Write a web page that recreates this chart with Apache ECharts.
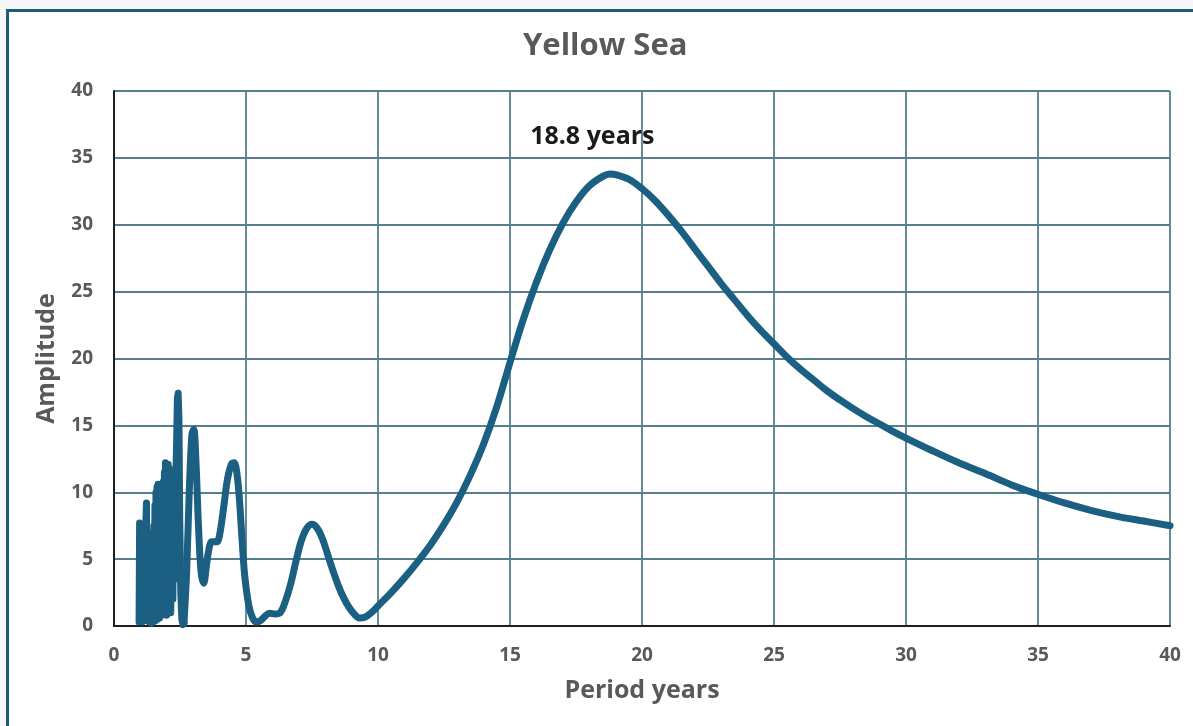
<!DOCTYPE html>
<html>
<head>
<meta charset="utf-8">
<script src="https://cdn.jsdelivr.net/npm/echarts@6/dist/echarts.min.js"></script>
<style>
  html, body { margin: 0; padding: 0; background: #f6f7f8; width: 1193px; height: 726px; overflow: hidden; }
  #frame { position: absolute; left: 6px; top: 9px; width: 1300px; height: 900px; border: 3px solid #1e5b78; background: #ffffff; }
  #chart { position: absolute; left: 0; top: 0; width: 1193px; height: 726px; }
</style>
</head>
<body>
<div id="frame"></div>
<div id="chart"></div>
<script>
// Short-period cluster (dense periodogram points)
const clusterPeriod = [
  0.95,0.97,0.99,1.01,1.03,1.05,1.07,1.09,1.11,1.13,
  1.15,1.17,1.19,1.21,1.23,1.25,1.27,1.29,1.31,1.33,
  1.35,1.37,1.39,1.41,1.43,1.45,1.47,1.49,1.51,1.53,
  1.55,1.57,1.59,1.61,1.63,1.65,1.67,1.69,1.71,1.73,
  1.75,1.77,1.79,1.81,1.83,1.85,1.87,1.89,1.91,1.93,
  1.95,1.97,1.99,2.01,2.03,2.05,2.07,2.09,2.11,2.13,
  2.15,2.17,2.19,2.21,2.23,2.25,2.27,2.29,2.31,2.34,
  2.37,2.40,2.43,2.46,2.49,2.53,2.57,2.61,2.65];
const clusterAmp = [
  0.3,7.7,0.5,7.0,1.5,5.5,0.3,6.0,2.0,5.2,
  0.4,5.5,0.8,8.0,9.2,0.6,7.0,2.5,5.5,0.3,
  5.2,1.5,4.8,0.2,5.0,1.8,5.4,0.3,7.5,2.5,
  9.0,0.4,10.0,3.0,10.4,0.5,10.6,4.5,10.4,0.6,
  10.2,5.0,10.3,0.8,9.8,6.0,10.8,1.0,11.5,6.5,
  12.2,12.3,0.8,12.0,7.0,12.1,1.5,11.8,7.5,11.0,
  1.0,10.2,6.5,9.8,2.0,10.5,7.0,10.0,3.5,11.0,
  13.5,17.0,17.4,15.5,8.0,2.5,0.5,0.1,0.2];

// Smooth part of the spectrum
const mainPeriod = [2.65,2.75,2.85,2.95,3.02,3.1,3.2,3.3,3.4,3.5,3.6,3.7,3.8,3.9,4.0,4.15,4.3,4.45,4.55,4.65,4.75,4.85,4.95,5.1,5.25,5.4,5.55,5.7,5.9,6.1,6.3,6.5,6.7,6.9,7.1,7.3,7.5,7.7,7.9,8.1,8.3,8.5,8.7,8.9,9.1,9.3,9.5,9.75,10,10.5,11,11.5,12,12.5,13,13.5,14,14.5,15,15.5,16,16.5,17,17.5,18,18.5,18.8,19,19.5,20,20.5,21,21.5,22,22.5,23,23.5,24,24.5,25,25.5,26,26.5,27,27.5,28,28.5,29,29.5,30,31,32,33,34,35,36,37,38,39,40];
const mainAmp    = [0.2,4.0,10.0,14.3,14.7,12.5,7.5,4.0,3.2,4.5,5.8,6.3,6.3,6.3,6.8,8.8,11.0,12.1,12.2,11.5,9.5,6.5,3.8,1.6,0.6,0.3,0.4,0.7,0.95,0.9,1.0,1.9,3.2,4.9,6.4,7.3,7.6,7.3,6.5,5.3,4.1,3.0,2.1,1.4,0.9,0.6,0.65,1.0,1.5,2.5,3.6,4.8,6.1,7.6,9.3,11.3,13.6,16.4,19.7,22.9,25.7,28.1,30.1,31.7,32.9,33.6,33.8,33.75,33.4,32.7,31.8,30.7,29.5,28.2,26.9,25.6,24.4,23.2,22.1,21.1,20.1,19.2,18.4,17.6,16.9,16.25,15.65,15.1,14.55,14.05,13.1,12.2,11.4,10.55,9.85,9.2,8.65,8.2,7.85,7.5];

const xTicks = [0,5,10,15,20,25,30,35,40];
const yTicks = [0,5,10,15,20,25,30,35,40];
const peakLabel = { period: 18.8, amp: 33.8, text: '18.8 years' };

const clusterData = clusterPeriod.map((p, i) => [p, clusterAmp[i]]);
const mainData = mainPeriod.map((p, i) => [p, mainAmp[i]]);

const FONT = '"Open Sans", "Noto Sans", sans-serif';
const LINE_COLOR = '#1b6083';
const GRID_COLOR = '#557f8e';
const LABEL_COLOR = '#595959';

const chart = echarts.init(document.getElementById('chart'), null, { renderer: 'canvas' });
chart.setOption({
  backgroundColor: 'transparent',
  animation: false,
  title: {
    text: 'Yellow Sea',
    left: 518,
    top: 26,
    textStyle: { fontFamily: FONT, fontSize: 31, fontWeight: 'bold', color: LABEL_COLOR }
  },
  grid: { left: 114, right: 23, top: 91, bottom: 100, containLabel: false },
  xAxis: {
    type: 'value',
    min: xTicks[0], max: xTicks[xTicks.length - 1], interval: 5,
    name: 'Period years', nameLocation: 'middle', nameGap: 52,
    nameTextStyle: { fontFamily: FONT, fontSize: 25, fontWeight: 'bold', color: LABEL_COLOR },
    axisLine: { show: true, lineStyle: { color: '#1f1f1f', width: 2 } },
    axisTick: { show: false },
    axisLabel: { fontFamily: FONT, fontSize: 19, fontWeight: 'bold', color: LABEL_COLOR, margin: 20 },
    splitLine: { show: true, lineStyle: { color: GRID_COLOR, width: 1.8 } }
  },
  yAxis: {
    type: 'value',
    min: yTicks[0], max: yTicks[yTicks.length - 1], interval: 5,
    name: 'Amplitude', nameLocation: 'middle', nameGap: 55,
    nameTextStyle: { fontFamily: FONT, fontSize: 25, fontWeight: 'bold', color: LABEL_COLOR },
    axisLine: { show: true, lineStyle: { color: '#1f1f1f', width: 2 } },
    axisTick: { show: false },
    axisLabel: { fontFamily: FONT, fontSize: 19, fontWeight: 'bold', color: LABEL_COLOR, margin: 21 },
    splitLine: { show: true, lineStyle: { color: GRID_COLOR, width: 1.8 } }
  },
  series: [
    {
      type: 'line',
      data: clusterData,
      showSymbol: false,
      smooth: false,
      lineStyle: { color: LINE_COLOR, width: 7, join: 'round', cap: 'round' },
      itemStyle: { color: LINE_COLOR }
    },
    {
      type: 'line',
      data: mainData,
      showSymbol: false,
      smooth: 0.35,
      lineStyle: { color: LINE_COLOR, width: 7, join: 'round', cap: 'round' },
      itemStyle: { color: LINE_COLOR },
      markPoint: {
        symbol: 'circle',
        symbolSize: 0,
        data: [{ coord: [peakLabel.period, peakLabel.amp] }],
        label: {
          show: true,
          formatter: peakLabel.text,
          position: 'inside',
          offset: [-18, -37],
          fontFamily: FONT, fontSize: 25, fontWeight: 'bold', color: '#1a1a1a'
        }
      }
    }
  ]
});
</script>
</body>
</html>
